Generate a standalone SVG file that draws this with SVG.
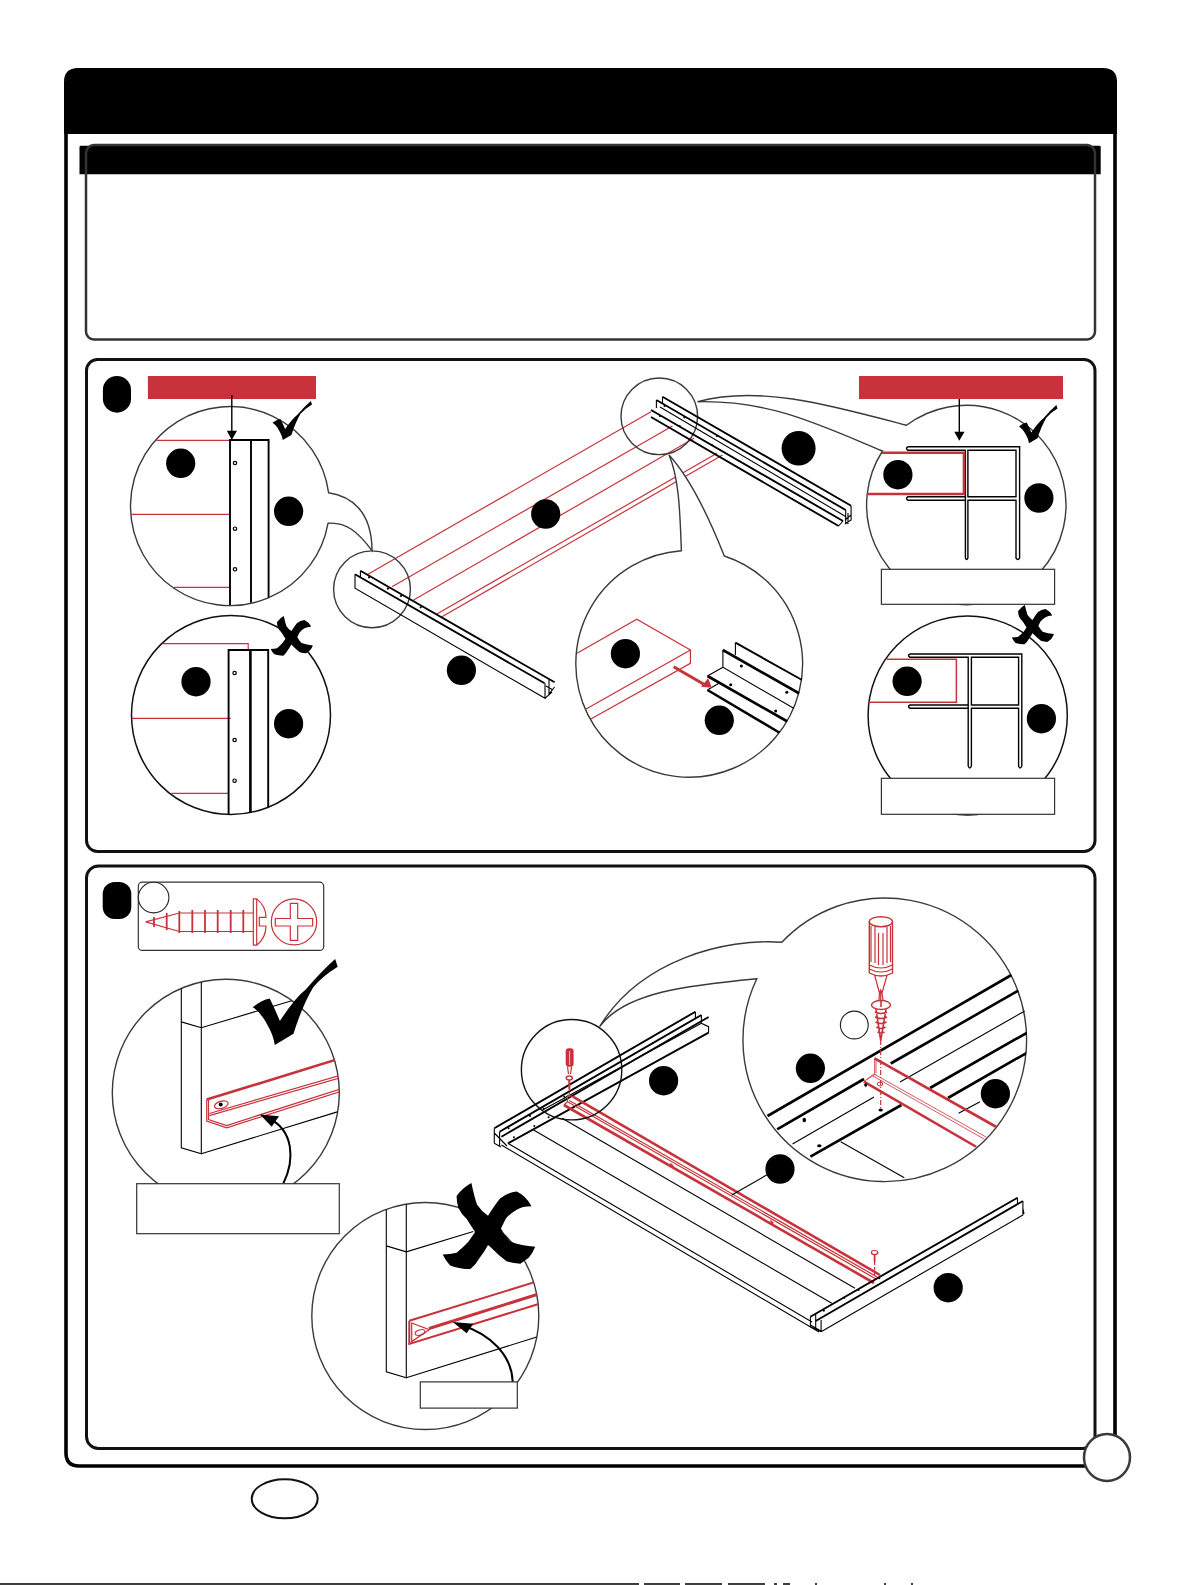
<svg xmlns="http://www.w3.org/2000/svg" xmlns:xlink="http://www.w3.org/1999/xlink" width="1182" height="1585" viewBox="0 0 1182 1585">
<style>
.c{fill:#fff;stroke:#3a3a3a;stroke-width:1.4}
.cb{fill:#fff;stroke:#111;stroke-width:1.5}
.n{fill:none;stroke:#3a3a3a;stroke-width:1.4}
.k{fill:none;stroke:#000;stroke-width:1.9}
.k3{fill:none;stroke:#000;stroke-width:2.6}
.t{fill:none;stroke:#000;stroke-width:1.1}
.r{fill:none;stroke:#c8323a;stroke-width:1.2}
.r2{fill:none;stroke:#c8323a;stroke-width:2.6}
.rt{fill:none;stroke:#c8323a;stroke-width:.8}
.b{fill:#000}
.h{fill:#fff;stroke:#000;stroke-width:1.2}
.l{fill:#fff;stroke:#333;stroke-width:1.2}
.p{fill:none;stroke:#111;stroke-width:3}
</style>
<defs>
<path id="tick" d="M0,56 Q10,48 20,46 Q26,58 32,72 Q50,45 63,35 Q80,15 97,0 L100,9 Q82,20 71,33 Q58,55 48,87 L26,100 Q24,88 18,78 Q10,62 0,56 Z"/>
<path id="cross" d="M15,15 Q22,5 31,0 Q34,15 37,25 Q42,33 49,38 Q56,26 62,18 Q70,11 80,10 Q90,15 96,27 Q86,27 80,31 Q72,36 68,42 L63,53 Q67,62 73,68 Q85,73 100,74 Q97,82 93,87 L84,94 Q76,93 69,91 Q60,84 53,76 L49,72 Q45,80 40,87 Q36,95 30,100 Q24,100 19,99 Q12,98 8,96 Q3,90 0,83 Q8,83 15,81 Q22,75 28,68 L35,57 Q30,49 26,42 Q20,36 17,29 Q15,22 15,15Z"/>
<clipPath id="cA"><circle cx="230" cy="505.5" r="99.5"/></clipPath>
<clipPath id="cB"><circle cx="231" cy="715" r="99.5"/></clipPath>
<clipPath id="cG"><circle cx="689.8" cy="663.6" r="113.4"/></clipPath>
<clipPath id="cH"><circle cx="225.8" cy="1092.8" r="113.5"/></clipPath>
<clipPath id="cI"><circle cx="425.3" cy="1316" r="113.5"/></clipPath>
<clipPath id="cK"><circle cx="885.3" cy="1038" r="141.8"/></clipPath>
</defs>
<rect width="1182" height="1585" fill="#fff"/>

<g id="page-frame">
<path class="b" d="M64,134 V82 Q64,68 78,68 H1103 Q1117,68 1117,82 V134 Z"/>
<path d="M66,134 V1453 Q66,1466 79,1466 H1102 Q1115,1466 1115,1453 V134" fill="none" stroke="#000" stroke-width="3.6"/>
<path class="b" d="M79.5,174.3 V147 Q79.5,145.7 81,145.7 H1099 Q1100.7,145.7 1100.7,147 V174.3 Z"/>
<rect x="86" y="145" width="1009" height="194.5" rx="8" fill="none" stroke="#333" stroke-width="2.5"/>
</g>

<g id="panel-1">
<rect class="p" x="86.5" y="359.5" width="1008.5" height="492" rx="11"/>
<rect class="b" x="102.9" y="376" width="28.1" height="36.7" rx="14"/>

<g id="boards">
<path class="r" d="M367.9,574.3 L651,411.7 M392,586.7 L672.5,426 M413.6,600 L694,438.3 M436.8,614 L717,453.3 M442,616.7 L722.5,455"/>
</g>

<g id="detail-ok-left">
<path class="c" d="M328.6,492.7 C350,496 372,510 372,550.7 C358,531.7 345.7,521.7 328,523.3 A99.5,99.5 0 1 1 328.6,492.7 Z"/>
<g clip-path="url(#cA)">
<path class="r" d="M156.4,440.3 H230 M131.4,514.3 H230 M174,587.3 H230"/>
<path class="k" d="M230,610 V440 H268.6 V610 M251,440 V610"/>
</g>
<circle class="h" cx="235" cy="463" r="1.7"/><circle class="h" cx="235" cy="528.7" r="1.7"/><circle class="h" cx="235" cy="569.3" r="1.7"/>
<ellipse class="b" cx="180.7" cy="463.3" rx="14.6" ry="14.7"/>
<ellipse class="b" cx="288.6" cy="511.3" rx="14.6" ry="14.7"/>
</g>

<g id="detail-bad-left">
<circle class="cb" cx="231" cy="715" r="99.5"/>
<g clip-path="url(#cB)">
<path class="r" d="M162.5,643.7 H248.2 V650 M131.4,718.3 H230.7 M171.4,793.3 H228.6"/>
<path class="k" d="M228.6,820 V650 H268.2 V820"/>
<path class="k3" d="M250.4,650 V820"/>
</g>
<circle class="h" cx="234.6" cy="673" r="1.7"/><circle class="h" cx="234.6" cy="740" r="1.7"/><circle class="h" cx="234.6" cy="780.7" r="1.7"/>
<ellipse class="b" cx="196" cy="681.7" rx="14.6" ry="14.7"/>
<ellipse class="b" cx="288.6" cy="723.7" rx="14.6" ry="14.7"/>
</g>

<g id="beam-left">
<circle class="n" cx="372" cy="589.3" r="38.4"/>
<path class="k" d="M355,574.3 L544.6,683.3 M360.4,570.7 L554.6,682.3"/>
<path class="t" d="M360.4,570.7 V577.3 M355,574.3 V588.3 L545,698.3 V683.3 M549,679 V694 L554.6,687 M545,698.3 L552,692 M546,686 L553,690"/>
<circle class="b" cx="369" cy="577.3" r="1.1"/><circle class="b" cx="387.9" cy="588.7" r="1.1"/><circle class="b" cx="401" cy="596" r="1.1"/><circle class="b" cx="420.7" cy="607.3" r="1.1"/>
<ellipse class="b" cx="461.4" cy="670.3" rx="14.6" ry="14.7"/>
<ellipse class="b" cx="545.7" cy="514" rx="14.6" ry="14.7"/>
</g>

<g id="detail-ok-right">
<path class="c" d="M906.4,425.3 C830,405 760,385 697.5,401.7 C770,400 820,425 882.5,451 A99.7,99.7 0 1 0 906.4,425.3 Z"/>
<g id="profile-ok">
<path class="t" style="stroke-width:1.4" d="M908,446.7 H1019.6 V558 Q1018,561 1016,558 V500.3 H967.9 V558 Q966.5,561 965.4,558 V496.7 H908 Q905,498.5 908,500.3 H965.4 M908,446.7 Q905,448.5 908,450.3 H965.4 V496.7 M967.9,450.3 H1016 V496.7 H967.9 Z"/>
<path class="r2" d="M882,452.7 H964 V494 H867.1"/>
</g>
<ellipse class="b" cx="897.9" cy="474.7" rx="14.6" ry="14.7"/>
<ellipse class="b" cx="1038.9" cy="498" rx="14.6" ry="14.7"/>
<rect class="l" x="881.4" y="569.3" width="173.2" height="35"/>
</g>

<g id="beam-right">
<circle class="n" cx="659.3" cy="416.3" r="38.3"/>
<path class="k" d="M662.5,396.7 L851.1,505.7 M656.4,400 L845.7,510 M651,410 L843,521 M651,417 L838.6,526"/>
<path class="t" d="M660,407 L846,516.7 M662.5,396.7 V404 M656.4,400 V408 M851.1,505.7 V520 L845,524 M845.7,510 V523 M838.6,526 L843,521 M848,513 V524 M851,515 L845,520"/>
<circle class="b" cx="664.6" cy="406" r="1.1"/><circle class="b" cx="684.3" cy="417.3" r="1.1"/><circle class="b" cx="717" cy="436" r="1.1"/><circle class="b" cx="660" cy="416" r="1.1"/><circle class="b" cx="679.6" cy="426" r="1.1"/><circle class="b" cx="711.8" cy="445" r="1.1"/>
<ellipse class="b" cx="798.6" cy="448.3" rx="17" ry="17.3"/>
</g>

<g id="detail-slide">
<path class="c" d="M681.4,550.7 C680,520 680,480 669,455 C692,480 710,520 724.3,556 A113.4,113.4 0 1 1 681.4,550.7 Z"/>
<g clip-path="url(#cG)">
<path class="r" d="M577,653.3 L636.8,619.3 L690.4,650 L585.7,709.3 M690.4,650 V663.3 L590.4,719.3"/>
<path class="k3" d="M722.9,650 L802,695 M707.5,676 L790,723 M707.5,690 L780,733"/>
<path class="k" d="M735.4,642.7 L802.1,680"/>
<path class="t" d="M735.4,642.7 V655 M722.9,650 V667.3 L795,709 M722.9,667.3 L707.5,676 M707.5,690 L718.9,683.3"/>
</g>
<path d="M673.6,666.7 L706,685.5" fill="none" stroke="#c8323a" stroke-width="3"/>
<path d="M711.8,687.7 L701,686.7 L708.2,678.3 Z" fill="#c8323a"/>
<circle class="b" cx="741.4" cy="666" r="1.5"/><circle class="b" cx="786.8" cy="692.3" r="1.5"/><circle class="b" cx="730.7" cy="684.7" r="1.5"/><circle class="b" cx="775.7" cy="711" r="1.5"/>
<ellipse class="b" cx="625.4" cy="653.7" rx="14.6" ry="14.7"/>
<ellipse class="b" cx="719.3" cy="720.3" rx="14.6" ry="14.7"/>
</g>

<g id="detail-bad-right">
<circle class="cb" cx="967.7" cy="715.5" r="99.6"/>
<path class="t" style="stroke-width:1.4" d="M910,654 H1021.8 V766 Q1020,770 1018.6,766 V708.3 H971.4 V766 Q969.8,770 968.2,766 V705 H910 Q907,706.5 910,708.3 H968.2 M910,654 Q907,655.5 910,657.3 H968.2 V705 M971.4,657.3 H1018.6 V705 H971.4 Z"/>
<path class="r" style="stroke-width:1.5" d="M886.8,659.3 H956.4 V702.3 H868.2"/>
<ellipse class="b" cx="907.1" cy="681.3" rx="14.6" ry="14.7"/>
<ellipse class="b" cx="1041.4" cy="718.7" rx="14.6" ry="14.7"/>
<rect class="l" x="881.4" y="778.3" width="173.2" height="36"/>
</g>

<g id="marks-1">
<use xlink:href="#tick" href="#tick" transform="translate(272.5 401) scale(.395 .39)"/>
<use xlink:href="#tick" href="#tick" transform="translate(1019 405) scale(.385 .383)"/>
<use xlink:href="#cross" href="#cross" transform="translate(270.7 616) scale(.422 .397)"/>
<use xlink:href="#cross" href="#cross" transform="translate(1011.8 605) scale(.422 .393)"/>
</g>
<rect x="147.9" y="376" width="168.1" height="23" fill="#c8323a"/>
<rect x="859" y="376" width="204" height="23" fill="#c8323a"/>
<path d="M231.8,395 V432 M959.3,399 V432" stroke="#000" stroke-width="1.4" fill="none"/>
<path class="b" d="M226.8,430.7 H237 L231.8,440 Z M954.3,431.7 H964.6 L959.3,440.7 Z"/>
</g>

<g id="panel-2">
<rect class="p" x="86.5" y="866" width="1008.5" height="582.5" rx="12"/>
<rect class="b" x="102.7" y="882" width="28.6" height="37" rx="12"/>

<g id="screw-box">
<rect x="138.3" y="882.2" width="185.4" height="68.2" rx="4" fill="#fff" stroke="#333" stroke-width="1.2"/>
<circle cx="153.6" cy="897.6" r="15.3" fill="#fff" stroke="#222" stroke-width="1.1"/>
<path class="r" d="M145.7,921.9 L179.3,913 H253.3 M145.7,921.9 L179.3,931.5 H253.3"/>
<path class="r" style="stroke-width:1.8" d="M154,917 V927 M166.7,913 V930 M179.3,911 V933 M192.3,910 V933 M205,910 V933 M217.7,910 V933 M230.7,910 V933 M243.3,910 V933"/>
<path class="r" d="M253.3,898.9 H256.7 V945.2 H253.3 Z M256.7,898.9 C262,903 266,910 266,917.4 H259.3 V926 H266 C266,934 262,941 256.7,945.2"/>
<ellipse class="r" cx="294" cy="921.9" rx="22.7" ry="23"/>
<path class="r" d="M290.3,903.3 H297.7 V918.5 H312.7 V926 H297.7 V940.4 H290.3 V926 H275.3 V918.5 H290.3 Z"/>
</g>

<g id="detail-ok-fit">
<circle class="cb" cx="225.8" cy="1092.8" r="113.5" style="stroke:#3a3a3a;stroke-width:1.4"/>
<g clip-path="url(#cH)">
<path class="t" d="M181.3,975 V1147.8 L201.3,1153.7 V975 M181.3,1021.9 L201.3,1027.8 L291.7,1000.7 M201.3,1153.7 L337.3,1111.9"/>
<path class="r2" d="M206.7,1099.6 L340,1058.5"/>
<path class="r" d="M206.7,1099.6 V1121.1 L226.7,1127.8 L345,1090 M208.5,1100 V1119.5 L226.7,1125.5 L345,1087.6 M209.3,1115.6 L345,1076.5 M209.3,1113.5 L345,1074"/>
<ellipse class="r" cx="221.3" cy="1104.8" rx="7" ry="3.6" transform="rotate(-16 221.3 1104.8)"/>
</g>
<circle class="b" cx="220.7" cy="1104.6" r="2"/>
<path d="M283.3,1183.5 C295,1160 294,1130 268,1118" fill="none" stroke="#000" stroke-width="2"/>
<path class="b" d="M260,1114.4 L279,1116.3 L271.7,1126.7 Z"/>
<rect class="l" x="136.7" y="1183.7" width="202.6" height="50"/>
<use xlink:href="#tick" href="#tick" transform="translate(252.7 959) scale(.85 .86)"/>
</g>

<g id="detail-bad-fit">
<circle class="cb" cx="425.3" cy="1316" r="113.5" style="stroke:#3a3a3a;stroke-width:1.4"/>
<g clip-path="url(#cI)">
<path class="t" d="M386.3,1200 V1371.9 L406.3,1377.8 V1200 M386.3,1245.9 L406.3,1251.9 L473.3,1231.5 M406.3,1377.8 L536.7,1337"/>
<path class="r" style="stroke-width:2" d="M409.3,1320.7 L540,1280.5 M409.3,1320.7 V1344 L540,1303.6"/>
<path class="r" d="M411.7,1323 L429.3,1329.6 L411.7,1341.5 Z"/>
<path class="r" style="stroke-width:3" d="M429,1328.5 L540,1293.5"/>
<ellipse class="r" cx="420" cy="1332.5" rx="5" ry="2.6" transform="rotate(-16 420 1332.5)"/>
</g>
<path d="M512.7,1382 C512,1355 490,1334 461,1325" fill="none" stroke="#000" stroke-width="2"/>
<path class="b" d="M452.7,1321.9 L473.3,1323.7 L466.7,1333.3 Z"/>
<rect class="l" x="420.3" y="1381.9" width="97" height="26.2"/>
<use xlink:href="#cross" href="#cross" transform="translate(442.7 1183) scale(.925 .86)"/>
</g>

<g id="frame-assembly">
<path class="k" d="M494.3,1128.3 L695.4,1011.7 M499.6,1131.7 L701.4,1015 M501.4,1136.7 L708.6,1017 M507.9,1143.3 L708.6,1032.7"/>
<path class="t" d="M542.5,1110 L701.4,1023.3 M695.4,1011.7 V1018.3 M701.4,1015 V1023.3 L708.6,1026.7 V1032.7 M494.3,1128.3 V1143.3 M499.6,1131.7 V1146.7 M494.3,1133 L507,1146 M494.3,1143.3 L501,1147"/>
<path class="t" d="M501.4,1145 L819,1332 M507.9,1143.3 L812,1322 M533.6,1130 L831.8,1303.3 M562.1,1118.3 L855,1288.3"/>
<circle class="b" cx="508.6" cy="1128.3" r="1"/><circle class="b" cx="530" cy="1116" r="1"/><circle class="b" cx="543.6" cy="1108.7" r="1"/><circle class="b" cx="564.3" cy="1096.7" r="1"/><circle class="b" cx="513.9" cy="1137.3" r="1"/><circle class="b" cx="534.3" cy="1126" r="1"/><circle class="b" cx="548.6" cy="1117.3" r="1"/>
<path class="r2" d="M572.9,1096.7 L880,1275"/>
<path class="r2" d="M563.9,1105 L874,1283"/>
<path class="r" d="M567.5,1101.7 L876,1279 M569.3,1100.5 L878,1277.5 M567.5,1095 V1101.7 L563.9,1105 M572.9,1096.7 L567.5,1095"/>
<path class="k" d="M810.4,1316.7 L1017.5,1197.7 M815.7,1321 L1022.9,1201"/>
<path class="t" d="M821.1,1331.7 L1022.9,1215 V1201 M1017.5,1197.7 V1205 M810.4,1316.7 V1326.7 L821.1,1331.7 M815.7,1313.3 V1328.3 M821.1,1320 V1331.7 M810.4,1325 L821,1331 M1022.9,1208 L1024,1214"/>
<circle class="b" cx="823.9" cy="1310.7" r="1"/><circle class="b" cx="844.3" cy="1297.7" r="1"/><circle class="b" cx="858.6" cy="1290" r="1"/><circle class="b" cx="879.3" cy="1278.3" r="1"/>
<path class="r" d="M671,1164 L673,1166 L671,1166.5 Z M771,1221 L773,1223 L771,1223.5 Z"/>
<path class="t" d="M731.8,1195 L775.5,1170"/>
<ellipse class="b" cx="780" cy="1169" rx="14.6" ry="14.7"/>
<ellipse class="b" cx="663.6" cy="1080.7" rx="14.6" ry="14.7"/>
<ellipse class="b" cx="948.2" cy="1287.7" rx="14.6" ry="14.7"/>
<g id="small-screw">
<ellipse cx="874.6" cy="1252.5" rx="3.2" ry="2" fill="#fff" stroke="#c8323a" stroke-width="1.2"/>
<path class="r" style="stroke-width:1.8" d="M874.6,1254.5 V1262"/>
<path class="r" stroke-dasharray="3 2" d="M874.6,1262 V1277"/>
</g>
<g id="small-driver">
<rect x="565.7" y="1048.3" width="7.9" height="18.4" rx="3" fill="#c8323a"/>
<path d="M569.6,1051 V1065" stroke="#fff" stroke-width=".7"/>
<path class="r" d="M567.5,1066.7 L568.5,1074 M571.5,1066.7 L570.5,1074"/>
<ellipse cx="569.3" cy="1078" rx="3" ry="2" fill="none" stroke="#c8323a" stroke-width="1.5"/>
<path class="r" style="stroke-width:2" d="M569.3,1080 V1089"/>
<path class="r" stroke-dasharray="2 1.5" d="M569.3,1089 V1097"/>
</g>
</g>

<g id="callout-k">
<circle cx="571.6" cy="1069.7" r="50.2" fill="none" stroke="#111" stroke-width="1.4"/>
<path class="c" d="M781.8,942.3 C725,938 640,960 599.6,1026.7 C625,992 690,985 756.8,978.7 A141.8,141.8 0 1 0 781.8,942.3 Z"/>
<g clip-path="url(#cK)">
<path class="k3" d="M767.5,1116 L1011.4,975 M777.1,1129.3 L864,1079 M890.7,1063.5 L1018.2,990.7 M810.4,1156.7 L901.4,1105 M930,1088 L1030,1031 M947.9,1098 L1030,1051"/>
<path class="t" d="M792.5,1144 L874,1097 M900,1082 L1030,1008 M840.7,1141.7 L904.3,1177.7 M958.6,1113.3 L980,1101.7"/>
<path class="r2" d="M874.6,1058.3 L1000,1129 M863.9,1081.7 L980,1149"/>
<path class="rt" d="M872.9,1076 L992,1143.5 M874,1074 L994,1141.5 M874.6,1058.3 V1073.3 L863.9,1081.7 M876,1059 V1073 M866,1080 L876,1074"/>
</g>
<path class="r" stroke-dasharray="5 2 1 2" d="M880.7,1040 V1110"/>
<ellipse cx="880" cy="1084" rx="2.8" ry="2" fill="none" stroke="#c8323a" stroke-width="1"/>
<ellipse class="b" cx="880.7" cy="1110" rx="2.2" ry="1.5"/><ellipse class="b" cx="804.3" cy="1120" rx="1.8" ry="2.3"/><ellipse class="b" cx="819.3" cy="1145.7" rx="2.2" ry="1.5"/><ellipse class="b" cx="865.7" cy="1085" rx="1.5" ry="1.8"/>
<g id="driver">
<path class="r" style="stroke-width:1.4" d="M869.3,922 V973 Q881,979 892.5,973 V922"/>
<ellipse cx="880.9" cy="921.7" rx="11.6" ry="5" fill="none" stroke="#c8323a" stroke-width="1.4"/>
<path class="r" d="M869.3,965 Q881,971 892.5,965 M869.3,969 Q881,975 892.5,969 M875,927 V963 M878.5,933 V965 M883,933 V965 M887,927 V963 M871,926 V962 M890.5,926 V962"/>
<path class="r" d="M874.6,975 L879.5,993 L880.7,990 L882,993 L887.1,975 M879.5,993 L879,1000 M882,993 L883,1000 M880.7,990 V1000"/>
<ellipse cx="881" cy="1005" rx="9.5" ry="4.5" fill="#fff" stroke="#c8323a" stroke-width="1.4"/>
<path class="r" style="stroke-width:1.6" d="M881,1000 V1007 M875,1012 Q881,1015 887,1012 M875,1017 Q881,1020 887,1017 M875.5,1022 Q881,1025 886.5,1022 M876.5,1027 Q881,1030 885.5,1027 M877.5,1032 Q881,1034 884.5,1032 M876,1009 L880.7,1040.7 L886,1009"/>
</g>
<ellipse class="b" cx="810.4" cy="1068.3" rx="14.6" ry="14.7"/>
<ellipse class="b" cx="995.4" cy="1093.7" rx="14.6" ry="14.7"/>
<circle cx="854.3" cy="1025" r="13.9" fill="#fff" stroke="#222" stroke-width="1.1"/>
</g>
</g>

<g id="page-marks">
<ellipse cx="1107" cy="1457.5" rx="23" ry="23.5" fill="#fff" stroke="#3a3a3a" stroke-width="2.5"/>
<ellipse cx="284.7" cy="1498.8" rx="33" ry="19.5" fill="#fff" stroke="#111" stroke-width="2"/>
<path d="M0,1584 H639 M644,1584 H680 M685,1584 H722 M728,1584 H765 M774,1584 H777 M783,1584 H790 M815,1584 H817 M884,1584 H886 M911,1584 H913" stroke="#000" stroke-width="1.4" fill="none"/>
</g>
</svg>
